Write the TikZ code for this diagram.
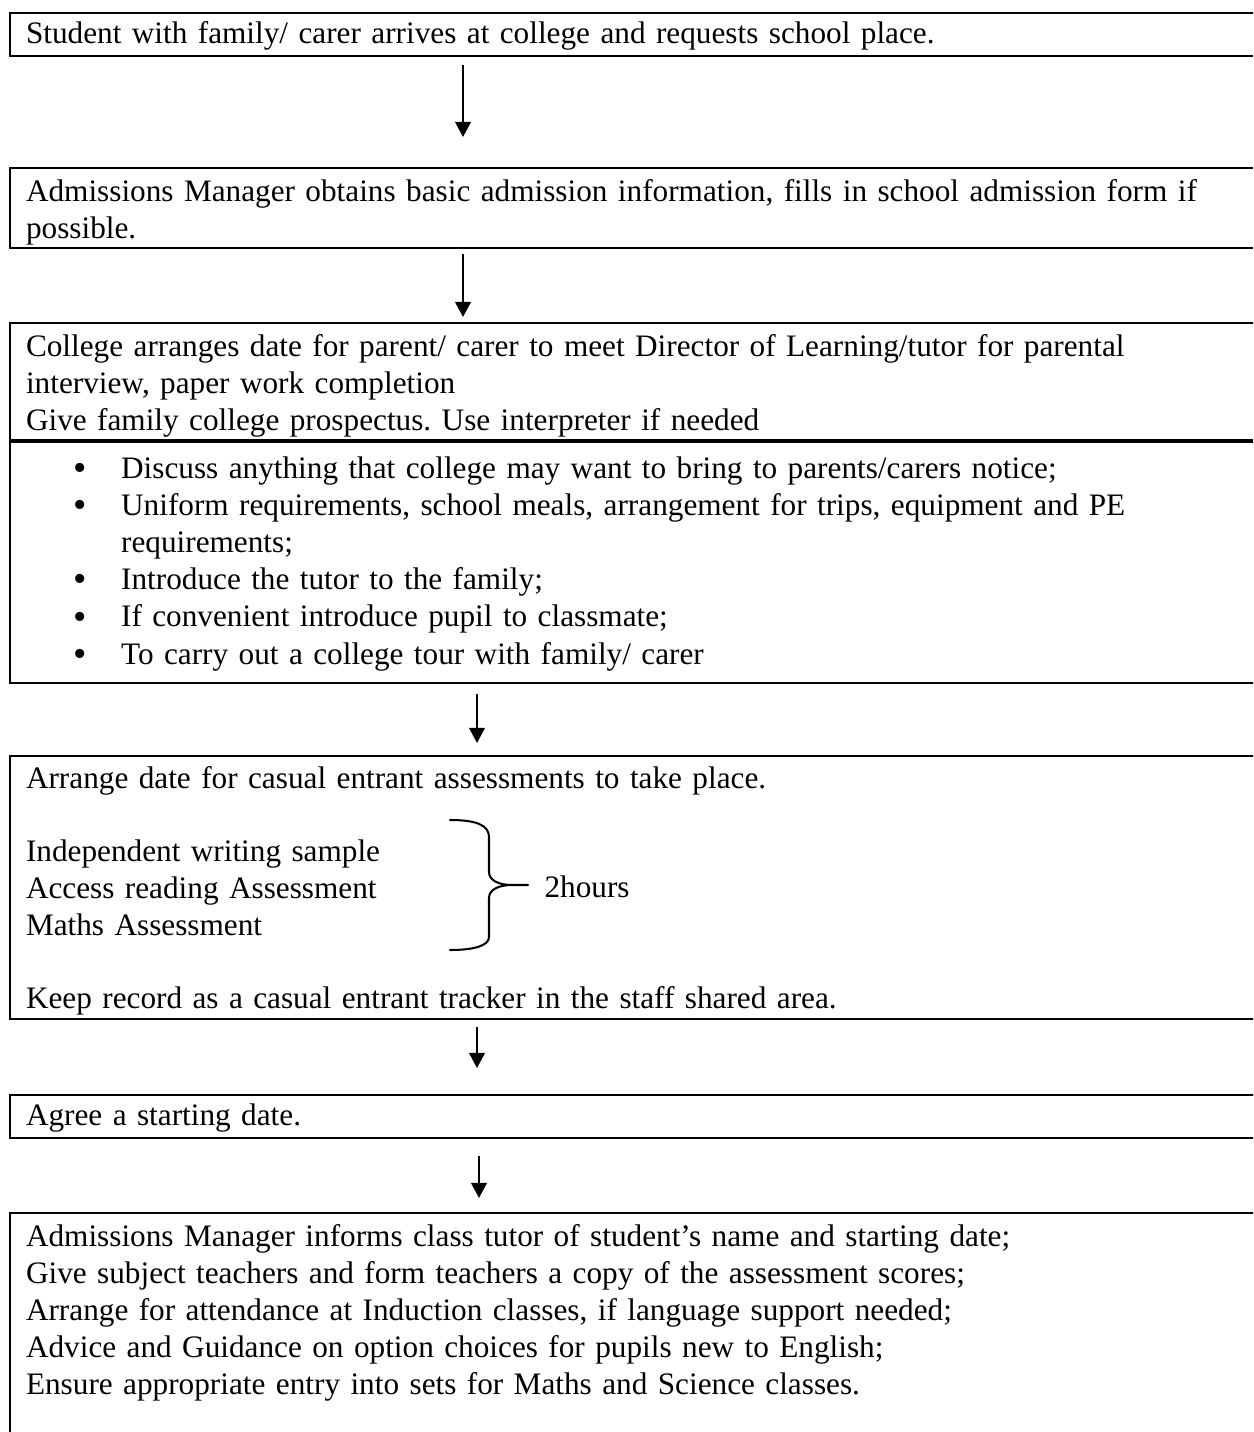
\documentclass[tikz,border=0pt]{standalone}
\usepackage{fontspec}
\setmainfont{Liberation Serif}
\usetikzlibrary{arrows.meta}
\newcommand{\pxu}{0.368pt}
\newcommand{\dotitem}[1]{\hspace*{17.3pt}\makebox[17.7pt][l]{\raisebox{-0.8pt}{\fontsize{14pt}{14pt}\selectfont\textbullet}}#1}

\begin{document}
\begin{tikzpicture}[
		x=\pxu, y=-\pxu,
		every node/.style={font=\fontsize{11.5pt}{13.7pt}\selectfont\frenchspacing},
		stage/.style={draw, line width=0.75pt, anchor=north west, align=left, text width=1229*\pxu, inner xsep=16*\pxu, inner ysep=0pt},
		flow/.style={-{Triangle[length=5.6pt,width=5.8pt]}, line width=0.75pt},
		brace/.style={line width=0.75pt, line cap=round}
		]
		\clip (0,0) rectangle (1253,1432);
		\coordinate (lane1) at (463,0);
		\coordinate (lane2) at (477,0);
		\coordinate (lane3) at (479,0);
		\node[stage, text height=30*\pxu, text depth=13*\pxu] (arrive) at (9,12) {Student with family/ carer arrives at college and requests school place.};
		\node[stage, text height=33*\pxu, text depth=47*\pxu] (obtain) at (9,167) {Admissions Manager obtains basic admission information, fills in school admission form if\\possible.};
		\node[stage, text height=33*\pxu, text depth=84*\pxu] (arrange) at (9,322) {College arranges date for parent/ carer to meet Director of Learning/tutor for parental\\interview, paper work completion\\Give family college prospectus. Use interpreter if needed};
		\node[stage, text height=36*\pxu, text depth=205*\pxu] (discuss) at (arrange.south west) {%
			\dotitem{Discuss anything that college may want to bring to parents/carers notice;}\\
			\dotitem{Uniform requirements, school meals, arrangement for trips, equipment and PE}\\
			\hspace*{35pt}requirements;\\
			\dotitem{Introduce the tutor to the family;}\\
			\dotitem{If convenient introduce pupil to classmate;}\\
			\dotitem{To carry out a college tour with family/ carer}};
		\node[stage, font=\fontsize{11.5pt}{13.55pt}\selectfont\frenchspacing, text height=32*\pxu, text depth=231*\pxu] (assess) at (9,755) {Arrange date for casual entrant assessments to take place.\\[13.55pt]
			Independent writing sample\\
			Access reading Assessment\\
			Maths Assessment\\[13.55pt]
			Keep record as a casual entrant tracker in the staff shared area.};
		\node[anchor=base west, inner sep=0pt] (hours) at (544,897) {2hours};
		\node[stage, text height=30*\pxu, text depth=13*\pxu] (agree) at (9,1094) {Agree a starting date.};
		\node[stage, text height=33*\pxu, text depth=210*\pxu] (inform) at (9,1212) {Admissions Manager informs class tutor of student’s name and starting date;\\
			Give subject teachers and form teachers a copy of the assessment scores;\\
			Arrange for attendance at Induction classes, if language support needed;\\
			Advice and Guidance on option choices for pupils new to English;\\
			Ensure appropriate entry into sets for Maths and Science classes.};
		\draw[brace] (450,820) .. controls (476,820) and (489,825) .. (489,837) -- (489,872) .. controls (489,880) and (498,885) .. (512,885) -- (528,885);
		\draw[brace] (512,885) .. controls (498,885) and (489,890) .. (489,898) -- (489,937) .. controls (489,945) and (476,950) .. (450,950);
		\draw[flow, shorten <=8*\pxu, shorten >=30*\pxu] (arrive.south -| lane1) -- (obtain.north -| lane1);
		\draw[flow, shorten <=5*\pxu, shorten >=5*\pxu] (obtain.south -| lane1) -- (arrange.north -| lane1);
		\draw[flow, shorten <=10*\pxu, shorten >=12*\pxu] (discuss.south -| lane2) -- (assess.north -| lane2);
		\draw[flow, shorten <=7*\pxu, shorten >=26*\pxu] (assess.south -| lane2) -- (agree.north -| lane2);
		\draw[flow, shorten <=17*\pxu, shorten >=14*\pxu] (agree.south -| lane3) -- (inform.north -| lane3);
	\end{tikzpicture}
\end{document}
